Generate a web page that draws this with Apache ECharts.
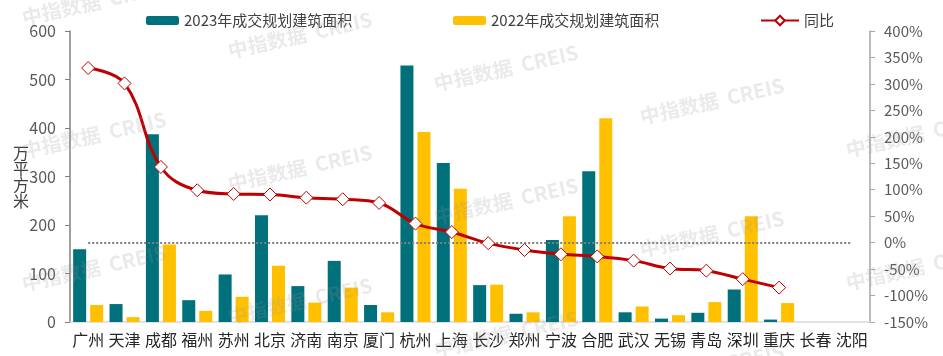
<!DOCTYPE html>
<html>
<head>
<meta charset="utf-8">
<script src="https://cdn.jsdelivr.net/npm/echarts@6/dist/echarts.min.js"></script>
<style>
html,body{margin:0;padding:0;background:#fff;}
#chart{width:943px;height:356px;}
</style>
</head>
<body>
<div id="chart"></div>
<script>
const cities = ['广州','天津','成都','福州','苏州','北京','济南','南京','厦门','杭州','上海','长沙','郑州','宁波','合肥','武汉','无锡','青岛','深圳','重庆','长春','沈阳'];
const area2023 = [150,37,387,45,98,220,74,126,35,529,328,76,17,169,311,20,7,19,67,5,null,null];
const area2022 = [35,10,160,23,52,116,40,71,20,392,275,77,20,218,420,32,14,41,218,39,null,null];
const yoy = [330,301,143,99,92,91,85,82,75,36,20,-1,-14,-22,-26,-34,-49,-53,-69,-85,null,null];
const leftTicks = {min:0, max:600, interval:100};
const rightTicks = {min:-150, max:400, interval:50};
const names = ['2023年成交规划建筑面积','2022年成交规划建筑面积','同比'];

const FONT = '"Noto Sans CJK SC", "Noto Sans", sans-serif';

const watermarks = [];
for (let c = 0; c < 5; c++) {
  for (let r = -1; r < 3; r++) {
    watermarks.push({
      type: 'text',
      x: 94 + 206 * c,
      y: 135 + 33 * c + 133 * r,
      rotation: 0.22,
      z: 100,
      silent: true,
      style: {
        text: '中指数据  CREIS',
        font: 'bold 20px ' + FONT,
        fill: 'rgba(150,150,150,0.2)',
        align: 'center',
        verticalAlign: 'middle'
      }
    });
  }
}

const chart = echarts.init(document.getElementById('chart'), null, {renderer:'canvas'});
const legendBase = {
  top: 8,
  itemWidth: 33,
  itemHeight: 9,
  textStyle: {fontFamily: FONT, fontSize: 15, color: '#404040'}
};
chart.setOption({
  animation: false,
  textStyle: {fontFamily: FONT},
  graphic: watermarks,
  legend: [
    Object.assign({}, legendBase, {left: 141, data: [names[0]]}),
    Object.assign({}, legendBase, {left: 448, data: [names[1]]}),
    Object.assign({}, legendBase, {left: 755, itemWidth: 38, itemHeight: 12, data: [names[2]]})
  ],
  grid: {left: 70, right: 73, top: 31, bottom: 34, containLabel: false},
  xAxis: {
    type: 'category',
    data: cities,
    axisLine: {show: true, lineStyle: {color: '#d9d9d9', width: 1.5}},
    axisTick: {show: false},
    axisLabel: {fontFamily: FONT, fontSize: 16, color: '#262626', margin: 10, interval: 0}
  },
  yAxis: [
    {
      type: 'value',
      min: leftTicks.min, max: leftTicks.max, interval: leftTicks.interval,
      name: '万\n平\n方\n米',
      nameLocation: 'middle',
      nameRotate: 0,
      nameGap: 41,
      nameMoveOverlap: false,
      nameTextStyle: {fontFamily: FONT, fontSize: 16, color: '#404040', lineHeight: 16},
      axisLine: {show: true, lineStyle: {color: '#808080', width: 1.5}},
      axisTick: {show: true, length: 5, lineStyle: {color: '#808080'}},
      axisLabel: {fontSize: 16, color: '#595959', margin: 14},
      splitLine: {show: false}
    },
    {
      type: 'value',
      min: rightTicks.min, max: rightTicks.max, interval: rightTicks.interval,
      position: 'right',
      axisLine: {show: true, lineStyle: {color: '#a6a6a6', width: 1.5}},
      axisTick: {show: true, length: 5, lineStyle: {color: '#a6a6a6'}},
      axisLabel: {fontSize: 15, color: '#595959', margin: 14, formatter: '{value}%'},
      splitLine: {show: false}
    }
  ],
  series: [
    {
      name: names[0], type: 'bar', data: area2023,
      barWidth: 13, barGap: '31%',
      itemStyle: {color: '#00707A'}
    },
    {
      name: names[1], type: 'bar', data: area2022,
      barWidth: 13,
      itemStyle: {color: '#FFC000'}
    },
    {
      name: names[2], type: 'line', data: yoy, yAxisIndex: 1,
      smooth: 0.4,
      symbol: 'diamond', symbolSize: 13,
      lineStyle: {color: '#C00000', width: 3},
      itemStyle: {color: '#ffffff', borderColor: '#C00000', borderWidth: 1},
      z: 5,
      markLine: {
        silent: true,
        symbol: 'none',
        label: {show: false},
        lineStyle: {color: '#808080', width: 2, type: [2, 2]},
        data: [[{coord: [cities[0], 0]}, {coord: [cities[cities.length - 1], 0]}]]
      }
    }
  ]
});
</script>
</body>
</html>
